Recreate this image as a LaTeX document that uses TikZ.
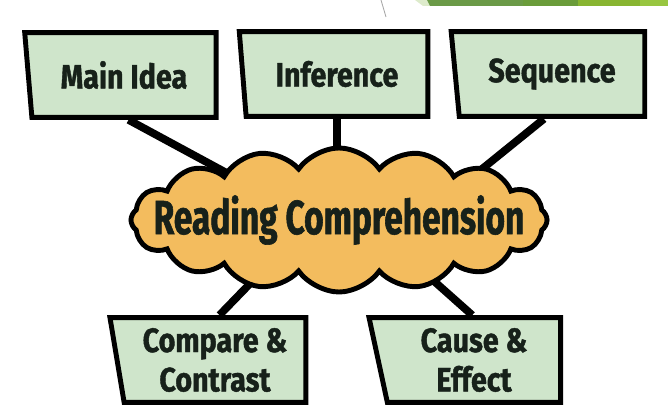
\documentclass[tikz,border=0pt]{standalone}
\usepackage{fontspec}
\newfontfamily\signfont[FakeStretch=0.85, FakeBold=1.2]{Fira Sans}
\newfontfamily\cloudfont[FakeStretch=0.7, FakeBold=1.2]{Fira Sans}
\usetikzlibrary{shapes.geometric,shapes.symbols,calc,backgrounds,shadows}

\definecolor{signgreen}{HTML}{CFE5CB}
\definecolor{cloudorange}{HTML}{F3BC5E}
\definecolor{inkdark}{HTML}{17211A}
\definecolor{bandlight}{HTML}{DDEBCB}
\definecolor{bandA}{HTML}{6B9A47}
\definecolor{bandB}{HTML}{6A9C3A}
\definecolor{bandC}{HTML}{88B531}
\definecolor{bandD}{HTML}{98C640}

\begin{document}
\begin{tikzpicture}[x=0.025cm, y=-0.025cm,
    sign/.style={draw=black, fill=signgreen, line width=3.5pt, trapezium,
        trapezium stretches=true, trapezium left angle=100,
        trapezium right angle=90, minimum height=2.12cm, inner sep=0pt,
        text=inkdark, align=center,
        drop shadow={shadow xshift=1.2pt, shadow yshift=-1.6pt, fill=black, opacity=1},
        font=\signfont\bfseries\fontsize{24}{28}\selectfont},
    stick/.style={line width=5.5pt, black}]
\useasboundingbox (0,0) rectangle (668,405);
% slide band, top right
\fill[bandlight] (415,0) -- (428,0) -- (431,6) -- (423,6) -- cycle;
\fill[bandA] (427,0) -- (523,0) -- (523,6) -- (430,6) -- cycle;
\fill[bandB] (523,0) -- (578,0) -- (578,6) -- (523,6) -- cycle;
\fill[bandC] (578,0) -- (640,0) -- (640,6) -- (578,6) -- cycle;
\fill[bandD] (640,0) -- (668,0) -- (668,6) -- (640,6) -- cycle;
\draw[gray!70, line width=0.6pt] (381,0) .. controls (383,8) .. (386,17);
%
\node (main)  [sign, minimum width=4.83cm] at (124,75)  {Main Idea};
\node (infer) [sign, minimum width=4.73cm] at (337,74)  {Inference};
\node (seq)   [sign, minimum width=4.88cm] at (552,74)  {Sequence};
\node (read)  [cloud, cloud puffs=16, cloud puff arc=110, aspect=2.9,
               draw=black, fill=cloudorange, line width=3.5pt, inner sep=0pt,
               minimum width=10.4cm, minimum height=3.6cm] at (339,220) {};
\node (readtext) [text=inkdark, font=\cloudfont\bfseries\fontsize{34}{34}\selectfont]
               at (read.center) {Reading Comprehension};
\node (comp)  [sign, minimum width=4.9cm] at (215,360) {Compare \&\\Contrast};
\node (cause) [sign, minimum width=4.8cm] at (474,360) {Cause \&\\Effect};
%
\coordinate (main-foot)  at ($(main.south west)!0.55!(main.south east)$);
\coordinate (infer-foot) at ($(infer.south west)!0.5!(infer.south east)$);
\coordinate (seq-foot)   at ($(seq.south west)!0.41!(seq.south east)$);
\coordinate (comp-top)   at ($(comp.north west)!0.55!(comp.north east)$);
\coordinate (cause-top)  at ($(cause.north west)!0.48!(cause.north east)$);
\begin{scope}[on background layer]
\draw[stick] (main-foot)  -- ($(read.center)!0.12!(read.west)$);
\draw[stick] (infer-foot) -- (infer-foot |- read.center);
\draw[stick] (seq-foot)   -- ($(read.center)!0.38!(read.east)$);
\draw[stick] (comp-top)   -- ($(read.center)!0.13!(read.west)$);
\draw[stick] (cause-top)  -- ($(read.center)!0.125!(read.east)$);
\end{scope}
\end{tikzpicture}
\end{document}
